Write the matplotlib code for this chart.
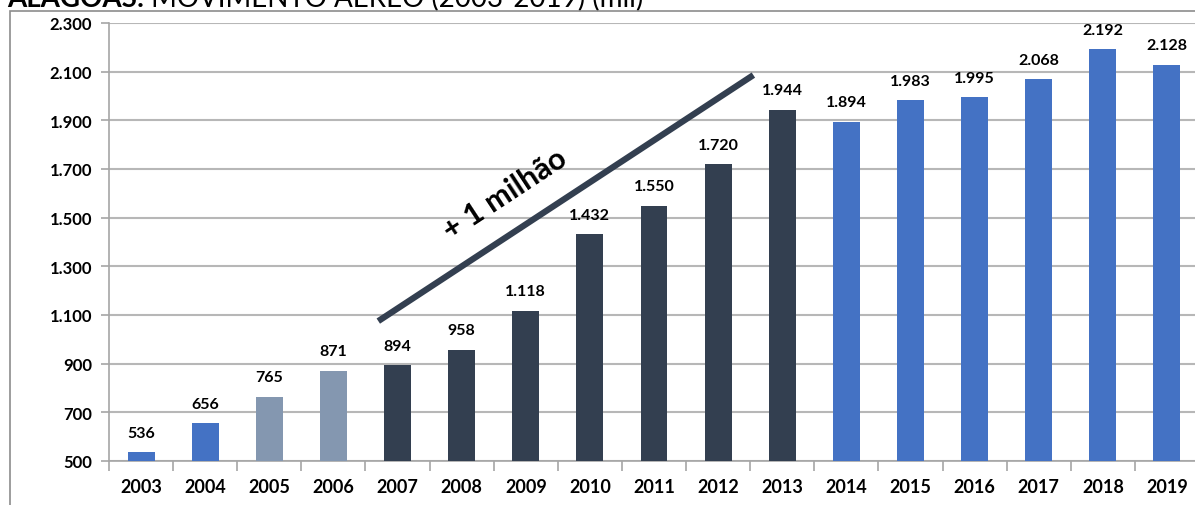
import matplotlib.pyplot as plt
from matplotlib.patches import Rectangle

plt.rcParams['font.family'] = ['Lato', 'DejaVu Sans']

anos = ['2003', '2004', '2005', '2006', '2007', '2008', '2009', '2010', '2011',
        '2012', '2013', '2014', '2015', '2016', '2017', '2018', '2019']
movimento = [536, 656, 765, 871, 894, 958, 1118, 1432, 1550,
             1720, 1944, 1894, 1983, 1995, 2068, 2192, 2128]
y_ticks = [500, 700, 900, 1100, 1300, 1500, 1700, 1900, 2100, 2300]

azul = '#4472C4'
cinza = '#8497B0'
escuro = '#333F50'
cores = [azul]*2 + [cinza]*2 + [escuro]*7 + [azul]*6

def fmt(v):  # separador de milhar com ponto
    return '{:,}'.format(v).replace(',', '.')

fig = plt.figure(figsize=(11.95, 5.06), dpi=100)
ax = fig.add_axes([109/1195, 44/506, 1090/1195, 438/506])

x = range(len(anos))
ax.bar(x, movimento, width=0.42, color=cores, zorder=3)
for i, v in enumerate(movimento):
    ax.annotate(fmt(v), (i, v), xytext=(0, 9), textcoords='offset points',
                ha='center', va='bottom', fontsize=11.5, fontweight='bold', zorder=4)

ax.set_ylim(500, 2300)
ax.set_xlim(-0.5, len(anos)-0.5)
ax.set_yticks(y_ticks)
ax.set_yticklabels([fmt(v) for v in y_ticks], fontsize=12, fontweight='bold')
ax.set_xticks(list(x))
ax.set_xticklabels(anos, fontsize=13, fontweight='bold')
ax.set_xticks([i+0.5 for i in range(-1, len(anos))], minor=True)
ax.tick_params(axis='x', which='major', length=0, pad=12)
ax.tick_params(axis='x', which='minor', length=7, color='#A6A6A6', width=1.2)
ax.tick_params(axis='y', length=6, color='#A6A6A6', width=1.2, pad=6)
ax.grid(axis='y', color='#B7B7B7', linewidth=1.5, zorder=0)
for s in ['top', 'right']:
    ax.spines[s].set_visible(False)
for s in ['left', 'bottom']:
    ax.spines[s].set_color('#A6A6A6')
    ax.spines[s].set_linewidth(1.2)

# linha de tendencia e texto
ax.plot([3.70, 9.55], [1075, 2086], color=escuro, linewidth=4.5, solid_capstyle='butt',
        zorder=5, clip_on=False)
ax.text(5.68, 1600, '+ 1 milhão', rotation=33.3, rotation_mode='anchor', ha='center',
        va='center', fontsize=22, fontweight='bold', color='black', zorder=5)

# moldura
fig.patches.append(Rectangle((10/1195, -0.1), 1.2, (506-12)/506+0.1,
                             transform=fig.transFigure, fill=False,
                             edgecolor='#8C8C8C', linewidth=1.2))

t1 = fig.text(0.006, (506-7)/506, 'ALAGOAS:', fontsize=20, fontweight='bold', va='baseline')
fig.canvas.draw()
fig.text(0, 0, ' MOVIMENTO AÉREO (2003-2019) (mil)', fontsize=20, va='baseline')
fig.texts[-1].remove()
ax.annotate(' MOVIMENTO AÉREO (2003-2019) (mil)', xy=(1, 0), xycoords=t1,
            va='bottom', ha='left', fontsize=20, annotation_clip=False)

fig.savefig('out.png', dpi=100)
